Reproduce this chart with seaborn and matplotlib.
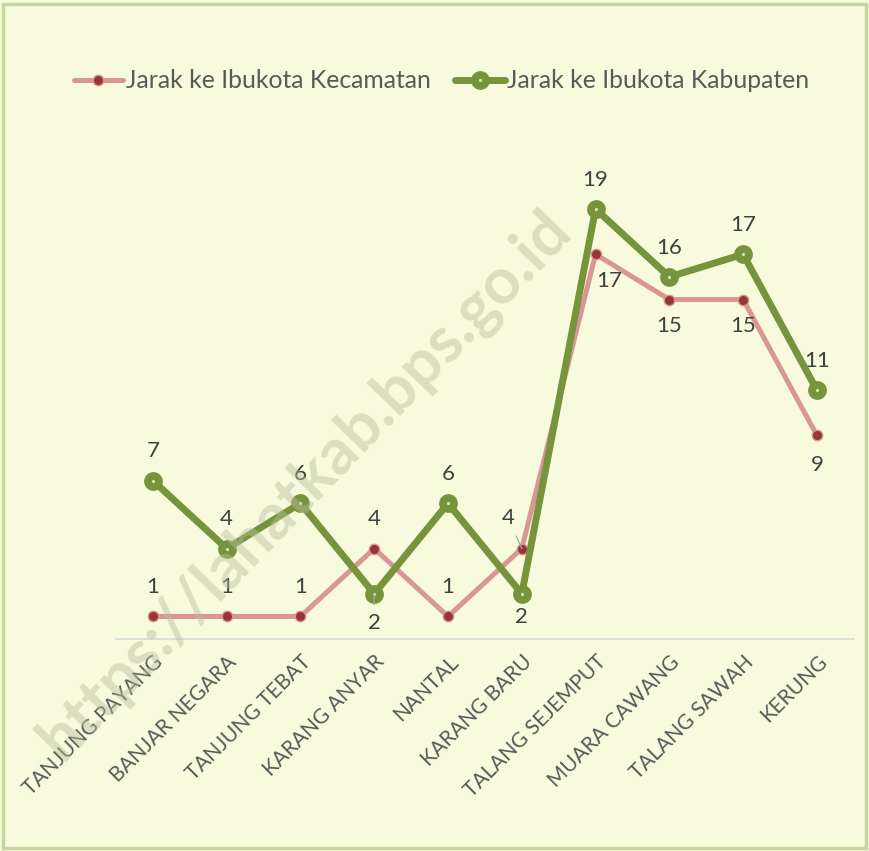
import matplotlib
matplotlib.use("Agg")
import matplotlib.pyplot as plt
import seaborn as sns
import pandas as pd
from matplotlib.patches import Rectangle

categories = ["TANJUNG PAYANG", "BANJAR NEGARA", "TANJUNG TEBAT", "KARANG ANYAR",
              "NANTAL", "KARANG BARU", "TALANG SEJEMPUT", "MUARA CAWANG",
              "TALANG SAWAH", "KERUNG"]
kecamatan = [1, 1, 1, 4, 1, 4, 17, 15, 15, 9]
kabupaten = [7, 4, 6, 2, 6, 2, 19, 16, 17, 11]
series_names = ["Jarak ke Ibukota Kecamatan", "Jarak ke Ibukota Kabupaten"]
watermark = "https://lahatkab.bps.go.id"

BG = "#F7FADC"
PINK = "#D99694"
DARKRED = "#953735"
GREEN = "#77933C"
GREEN_IN = "#D7E4BD"
TXT = "#404040"

sns.set_theme(style="white")
plt.rcParams["font.family"] = ["Lato", "DejaVu Sans"]

fig = plt.figure(figsize=(8.69, 8.51), dpi=100, facecolor=BG)
fig.patches.append(Rectangle((0.004, 0.003), 0.992, 0.992, transform=fig.transFigure,
                             fill=False, edgecolor="#C3D69B", linewidth=2.5, zorder=0))
ax = fig.add_axes([0.1335, 0.249, 0.849, 0.532])
ax.set_facecolor("none")

df = pd.DataFrame({"pos": list(range(len(categories))), "kec": kecamatan, "kab": kabupaten})

sns.lineplot(data=df, x="pos", y="kec", ax=ax, color=PINK, linewidth=3.6,
             marker="o", markersize=7.5, markerfacecolor=DARKRED, markeredgecolor=PINK,
             markeredgewidth=1.0, label=series_names[0], zorder=3)
sns.lineplot(data=df, x="pos", y="kab", ax=ax, color=GREEN, linewidth=5,
             marker="o", markersize=8, markerfacecolor=GREEN_IN, markeredgecolor=GREEN,
             markeredgewidth=5.5, label=series_names[1], zorder=4)

ax.set_xlim(-0.5, len(categories) - 0.5)
ax.set_ylim(0, 20)
ax.set_xticks(range(len(categories)))
ax.set_xticklabels(categories, rotation=45, ha="right", rotation_mode="anchor",
                   fontsize=15, color="#595959")
ax.tick_params(axis="x", length=0, pad=9)
ax.set_yticks([])
ax.set_xlabel("")
ax.set_ylabel("")
for s in ["left", "right", "top"]:
    ax.spines[s].set_visible(False)
ax.spines["bottom"].set_color("#D9D9D9")
ax.spines["bottom"].set_linewidth(1.2)

# data labels
kec_off = [(0, 21), (0, 21), (0, 21), (0, 21), (0, 21), (-10, 22), (10, -19), (0, -19), (0, -19), (0, -21)]
kab_off = [(0, 21), (0, 21), (0, 21), (0, -21), (0, 21), (0, -17), (0, 21), (0, 21), (0, 21), (0, 21)]
for i, v in enumerate(kecamatan):
    dx, dy = kec_off[i]
    ax.annotate(str(v), (i, v), xytext=(dx, dy), textcoords="offset points",
                ha="center", va="center", fontsize=16, color=TXT, zorder=6)
for i, v in enumerate(kabupaten):
    dx, dy = kab_off[i]
    ax.annotate(str(v), (i, v), xytext=(dx, dy), textcoords="offset points",
                ha="center", va="center", fontsize=16, color=TXT, zorder=6)
# leader lines
ax.annotate("", (5, kecamatan[5]), xytext=(-4, 9), textcoords="offset points",
            arrowprops=dict(arrowstyle="-", color="#A6A6A6", lw=0.9, shrinkA=0, shrinkB=0), zorder=6)
ax.annotate("", (3, kabupaten[3]), xytext=(0, -8), textcoords="offset points",
            arrowprops=dict(arrowstyle="-", color="#A6A6A6", lw=0.9, shrinkA=0, shrinkB=0), zorder=6)

leg = ax.legend(loc="center", bbox_to_anchor=(0.508, 0.905), bbox_transform=fig.transFigure,
                ncol=2, frameon=False, fontsize=17.8, handlelength=2.0, handletextpad=0.1,
                columnspacing=1.0, labelcolor="#595959")

fig.text(0.35, 0.43, watermark, rotation=46, fontsize=46, fontweight="bold",
         color="#B9BF9C", alpha=0.45, ha="center", va="center", zorder=10)

fig.savefig("out.png", dpi=100, facecolor=BG)
